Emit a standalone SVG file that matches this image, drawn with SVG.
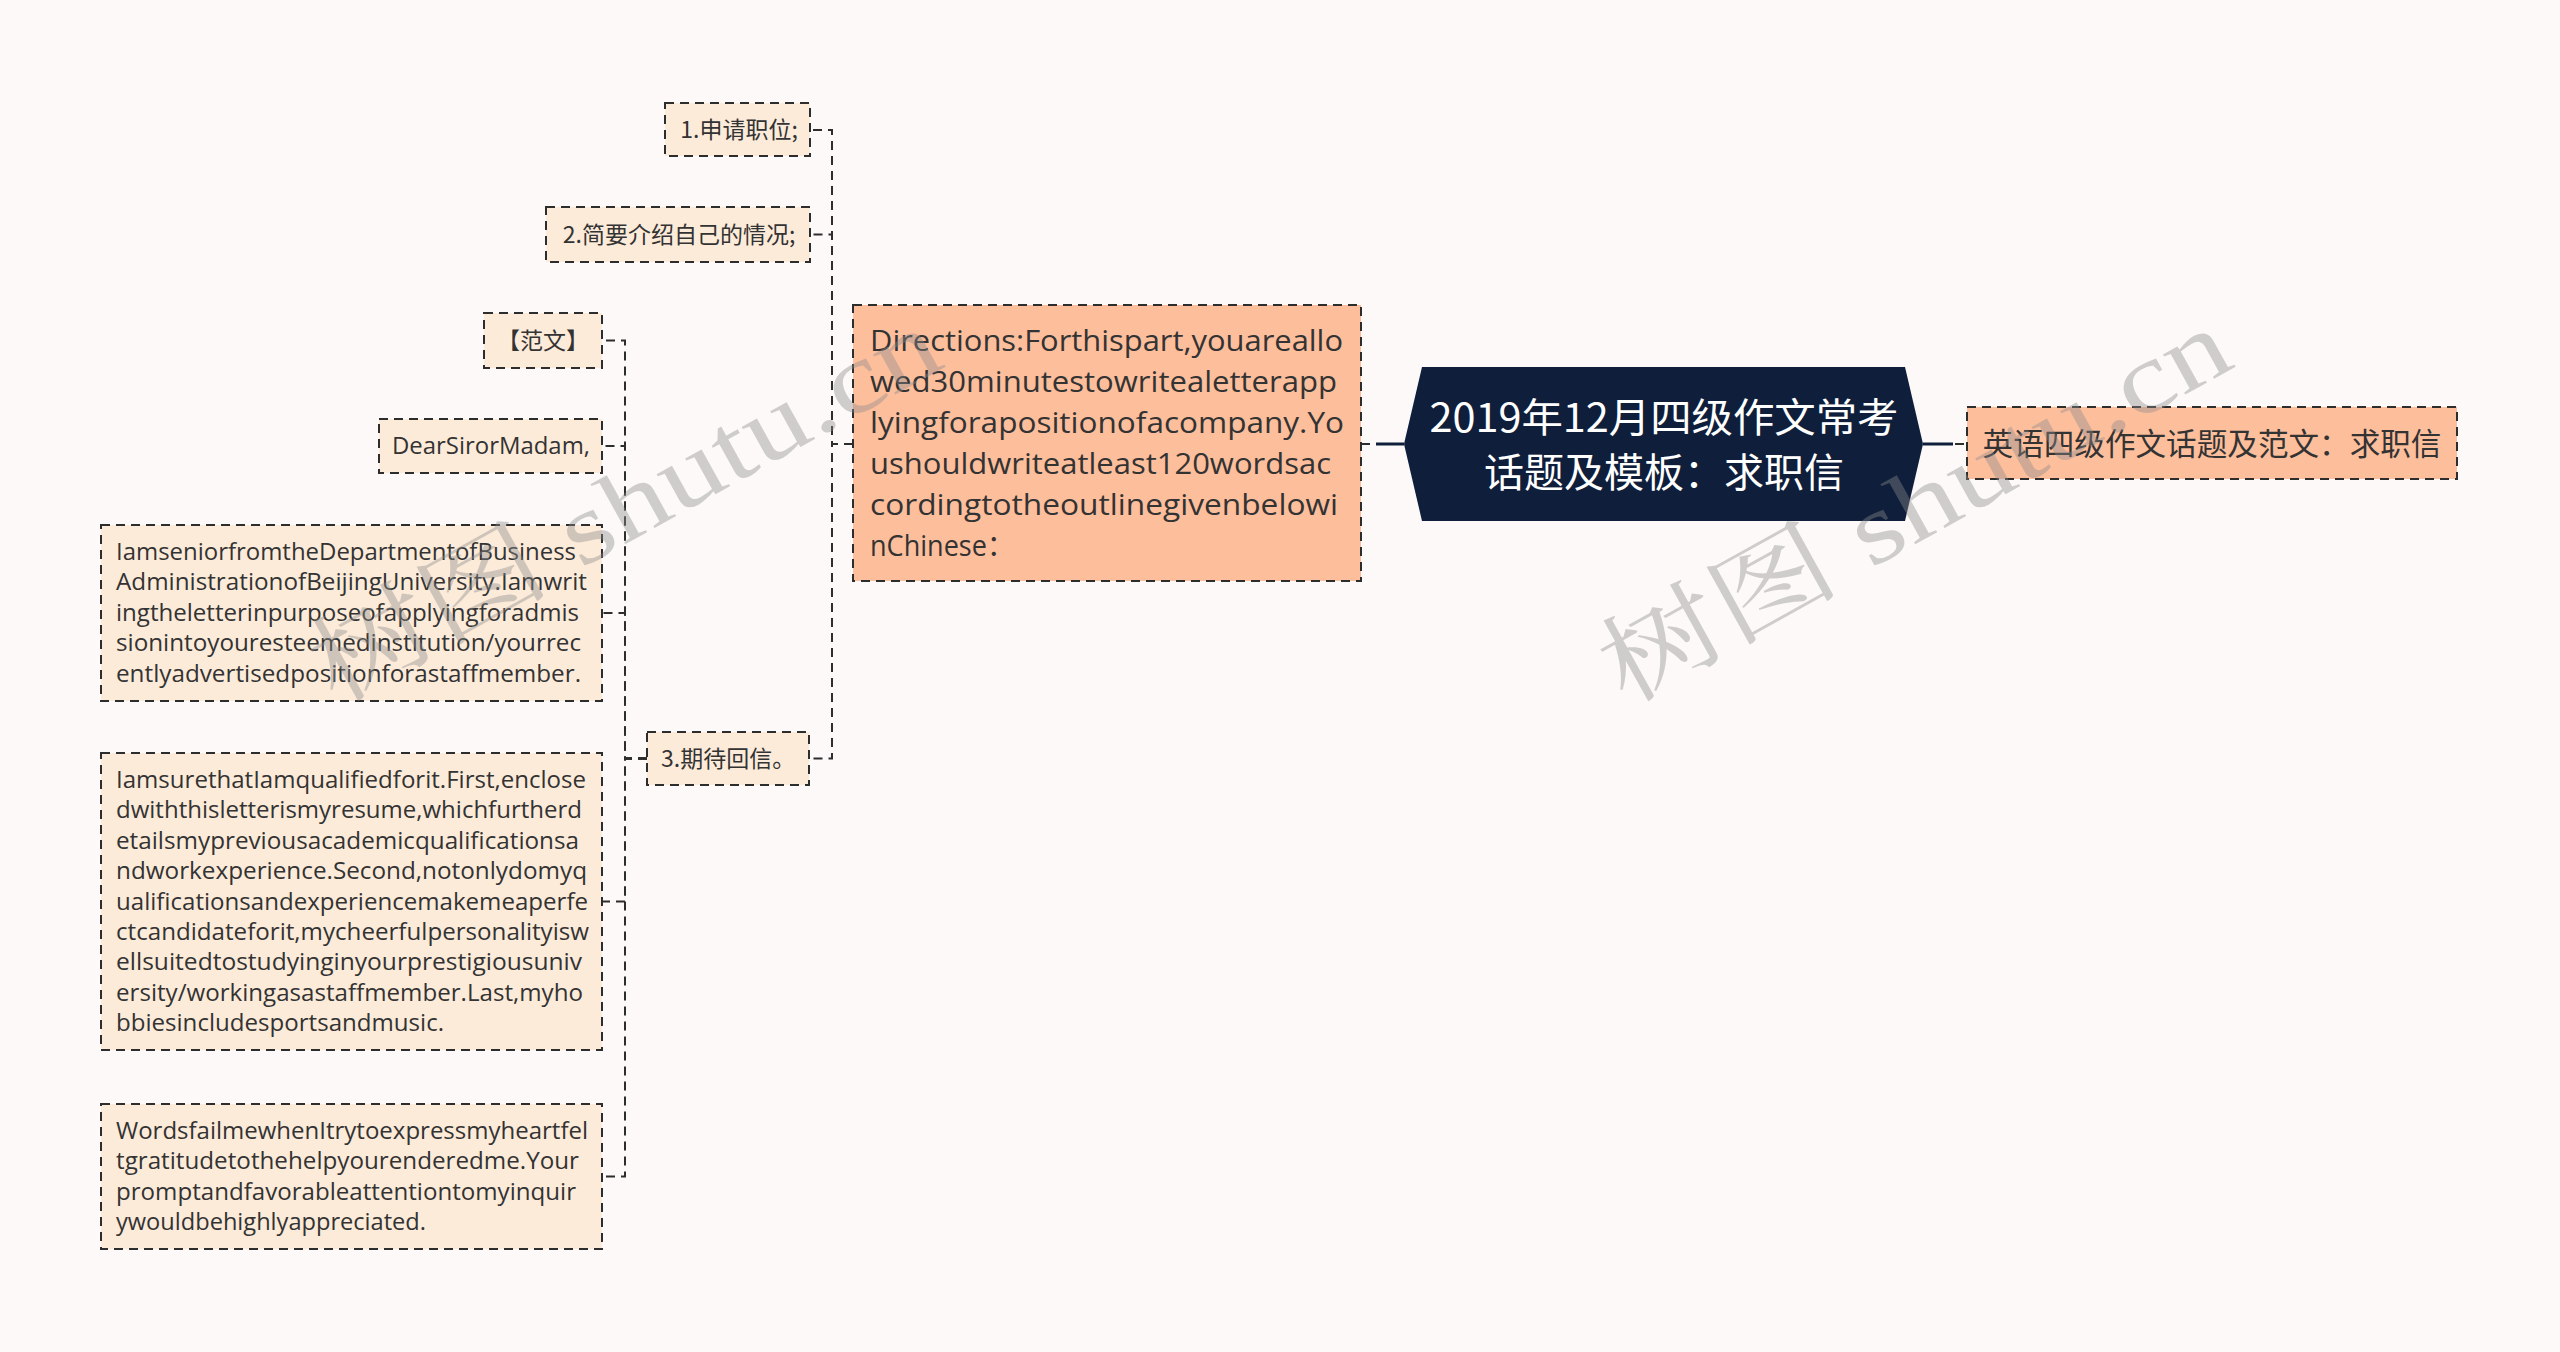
<svg xmlns="http://www.w3.org/2000/svg" width="2560" height="1352" viewBox="0 0 2560 1352">
<style>
.bg{fill:#FCF9F8}
.box{stroke:#2d2d2d;stroke-width:2;stroke-dasharray:9 6}
.lt{fill:#FDEBDA}
.pk{fill:#FDBE9C}
.hex{fill:#0F1F3B}
.cn{font-family:"Noto Sans CJK SC","Open Sans",sans-serif;fill:#333}
.lat{font-family:"Open Sans","Noto Sans","Noto Sans CJK SC",sans-serif;fill:#333}
.p{font-size:23px}
.d{font-size:29px}
.wt{font-family:"Noto Sans CJK SC",sans-serif;font-size:40px;fill:#FFFFFF;text-anchor:middle}
.con{fill:none;stroke:#2d2d2d;stroke-width:2;stroke-dasharray:9 6}
.solid{fill:none;stroke:#0F1F3B;stroke-width:3}
.wm{font-family:"Liberation Serif","Noto Serif CJK SC","Noto Sans CJK SC",serif;font-size:100px;fill:#8c8c8c;opacity:0.4}
</style>
<rect class="bg" x="0" y="0" width="2560" height="1352"/>

<g id="connectors">
  <line class="solid" x1="1376" y1="444" x2="1404" y2="444"/>
  <line class="con" x1="1361" y1="444" x2="1376" y2="444"/>
  <line class="solid" x1="1923" y1="444" x2="1953" y2="444"/>
  <line class="con" x1="1955" y1="444" x2="1967" y2="444"/>
  <path class="con" d="M853,444 H832 V130 H810"/>
  <path class="con" d="M853,444 H832 V234.5 H810"/>
  <path class="con" d="M853,444 H832 V758.5 H809"/>
  <path class="con" d="M647,758.5 H625 V340.5 H602"/>
  <path class="con" d="M647,758.5 H625 V446 H602"/>
  <path class="con" d="M647,758.5 H625 V613 H602"/>
  <path class="con" d="M647,758.5 H625 V901.5 H602"/>
  <path class="con" d="M647,758.5 H625 V1176.5 H602"/>
</g>

<g id="root">
  <polygon class="hex" points="1422,367 1905,367 1923,444 1905,521 1422,521 1404,444"/>
  <text class="wt" x="1664" y="432" textLength="469" lengthAdjust="spacingAndGlyphs">2019年12月四级作文常考</text>
  <text class="wt" x="1664" y="487">话题及模板：求职信</text>
</g>

<g id="node-right">
  <rect class="box pk" x="1967" y="407" width="490" height="72"/>
  <text class="cn" x="2212" y="455" font-size="30.6" text-anchor="middle">英语四级作文话题及范文：求职信</text>
</g>

<g id="node-directions">
  <rect class="box pk" x="853" y="305" width="508" height="276"/>
  <text class="lat d" x="870" y="351" textLength="473" lengthAdjust="spacingAndGlyphs">Directions:Forthispart,youareallo</text>
  <text class="lat d" x="870" y="392" textLength="467" lengthAdjust="spacingAndGlyphs">wed30minutestowritealetterapp</text>
  <text class="lat d" x="870" y="433" textLength="474" lengthAdjust="spacingAndGlyphs">lyingforapositionofacompany.Yo</text>
  <text class="lat d" x="870" y="474" textLength="461" lengthAdjust="spacingAndGlyphs">ushouldwriteatleast120wordsac</text>
  <text class="lat d" x="870" y="515" textLength="468" lengthAdjust="spacingAndGlyphs">cordingtotheoutlinegivenbelowi</text>
  <text class="lat d" x="870" y="556" textLength="144" lengthAdjust="spacingAndGlyphs">nChinese：</text>
</g>

<g id="node-1">
  <rect class="box lt" x="665" y="103" width="145" height="53"/>
  <text class="cn p" x="739" y="138" text-anchor="middle">1.申请职位;</text>
</g>

<g id="node-2">
  <rect class="box lt" x="546" y="207" width="264" height="55"/>
  <text class="cn p" x="679" y="243" text-anchor="middle">2.简要介绍自己的情况;</text>
</g>

<g id="node-3">
  <rect class="box lt" x="647" y="732" width="162" height="53"/>
  <text class="cn p" x="661" y="767">3.期待回信。</text>
</g>

<g id="node-fanwen">
  <rect class="box lt" x="484" y="313" width="118" height="55"/>
  <text class="cn p" x="543" y="349" text-anchor="middle">【范文】</text>
</g>

<g id="node-dear">
  <rect class="box lt" x="379" y="419" width="223" height="54"/>
  <text class="lat p" x="491" y="454" text-anchor="middle" textLength="198" lengthAdjust="spacingAndGlyphs">DearSirorMadam,</text>
</g>

<g id="node-para1">
  <rect class="box lt" x="101" y="525" width="501" height="176"/>
  <text class="lat p" x="116" y="560" textLength="460" lengthAdjust="spacingAndGlyphs">IamseniorfromtheDepartmentofBusiness</text>
  <text class="lat p" x="116" y="590.4" textLength="471" lengthAdjust="spacingAndGlyphs">AdministrationofBeijingUniversity.Iamwrit</text>
  <text class="lat p" x="116" y="620.8" textLength="463" lengthAdjust="spacingAndGlyphs">ingtheletterinpurposeofapplyingforadmis</text>
  <text class="lat p" x="116" y="651.2" textLength="465" lengthAdjust="spacingAndGlyphs">sionintoyouresteemedinstitution/yourrec</text>
  <text class="lat p" x="116" y="681.6" textLength="465" lengthAdjust="spacingAndGlyphs">entlyadvertisedpositionforastaffmember.</text>
</g>

<g id="node-para2">
  <rect class="box lt" x="101" y="753" width="501" height="297"/>
  <text class="lat p" x="116" y="788" textLength="470" lengthAdjust="spacingAndGlyphs">IamsurethatIamqualifiedforit.First,enclose</text>
  <text class="lat p" x="116" y="818.4" textLength="466" lengthAdjust="spacingAndGlyphs">dwiththisletterismyresume,whichfurtherd</text>
  <text class="lat p" x="116" y="848.8" textLength="463" lengthAdjust="spacingAndGlyphs">etailsmypreviousacademicqualificationsa</text>
  <text class="lat p" x="116" y="879.2" textLength="471" lengthAdjust="spacingAndGlyphs">ndworkexperience.Second,notonlydomyq</text>
  <text class="lat p" x="116" y="909.6" textLength="472" lengthAdjust="spacingAndGlyphs">ualificationsandexperiencemakemeaperfe</text>
  <text class="lat p" x="116" y="940" textLength="473" lengthAdjust="spacingAndGlyphs">ctcandidateforit,mycheerfulpersonalityisw</text>
  <text class="lat p" x="116" y="970.4" textLength="466" lengthAdjust="spacingAndGlyphs">ellsuitedtostudyinginyourprestigiousuniv</text>
  <text class="lat p" x="116" y="1000.8" textLength="467" lengthAdjust="spacingAndGlyphs">ersity/workingasastaffmember.Last,myho</text>
  <text class="lat p" x="116" y="1031.2" textLength="328" lengthAdjust="spacingAndGlyphs">bbiesincludesportsandmusic.</text>
</g>

<g id="node-para3">
  <rect class="box lt" x="101" y="1104" width="501" height="145"/>
  <text class="lat p" x="116" y="1139" textLength="472" lengthAdjust="spacingAndGlyphs">WordsfailmewhenItrytoexpressmyheartfel</text>
  <text class="lat p" x="116" y="1169.4" textLength="463" lengthAdjust="spacingAndGlyphs">tgratitudetothehelpyourenderedme.Your</text>
  <text class="lat p" x="116" y="1199.8" textLength="460" lengthAdjust="spacingAndGlyphs">promptandfavorableattentiontomyinquir</text>
  <text class="lat p" x="116" y="1230.2" textLength="310" lengthAdjust="spacingAndGlyphs">ywouldbehighlyappreciated.</text>
</g>

<g id="watermark">
  <text class="wm" transform="translate(1625,705) rotate(-29)" textLength="700" lengthAdjust="spacingAndGlyphs">树图 shutu.cn</text>
  <text class="wm" transform="translate(335,705) rotate(-29)" textLength="700" lengthAdjust="spacingAndGlyphs">树图 shutu.cn</text>
</g>
</svg>
